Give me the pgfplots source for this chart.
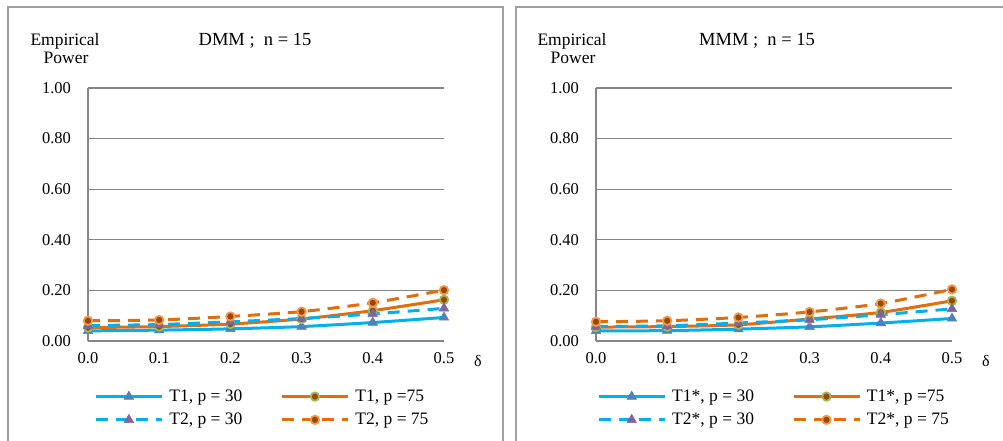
\documentclass[border=0pt]{standalone}
\usepackage{fontspec}
\setmainfont{Liberation Serif}
\usepackage{pgfplots}
\pgfplotsset{compat=1.18}

\definecolor{lblue}{HTML}{00B0F0}
\definecolor{dorange}{HTML}{E46C0A}
\definecolor{tri1}{HTML}{4F81BD}
\definecolor{tri2}{HTML}{8064A2}
\definecolor{cfill}{HTML}{984807}
\definecolor{cring1}{HTML}{9BBB59}
\definecolor{cring2}{HTML}{F79646}
\definecolor{axgray}{HTML}{868686}
\definecolor{framegray}{HTML}{A0A0A0}

\pgfplotstableread{
d     a      b      c      e
0.0   0.040  0.053  0.061  0.080
0.1   0.043  0.057  0.065  0.083
0.2   0.048  0.067  0.076  0.097
0.3   0.057  0.087  0.089  0.116
0.4   0.073  0.120  0.107  0.151
0.5   0.093  0.163  0.129  0.201
}\dmm

\pgfplotstableread{
d     a      b      c      e
0.0   0.040  0.055  0.057  0.076
0.1   0.041  0.057  0.060  0.080
0.2   0.047  0.064  0.071  0.093
0.3   0.056  0.087  0.084  0.115
0.4   0.071  0.113  0.104  0.148
0.5   0.089  0.159  0.127  0.204
}\mmm

\pgfplotsset{
  panel/.style={
    scale only axis, width=356bp, height=253bp,
    xmin=0, xmax=0.5, ymin=0, ymax=1,
    axis x line*=bottom, axis y line*=left,
    axis line style={-, draw=axgray, line width=1.3bp},
    every outer x axis line/.append style={-},
    every outer y axis line/.append style={-},
    xtick={0,0.1,0.2,0.3,0.4,0.5},
    ytick={0,0.2,0.4,0.6,0.8,1},
    ymajorgrids,
    major grid style={draw=axgray, line width=1.1bp},
    major tick length=0pt,
    /pgf/number format/assume math mode=true,
    yticklabel style={font=\fontsize{16.5bp}{18bp}\selectfont, xshift=-11bp,
      /pgf/number format/fixed, /pgf/number format/fixed zerofill, /pgf/number format/precision=2},
    xticklabel style={font=\fontsize{16.5bp}{18bp}\selectfont, yshift=-5bp,
      /pgf/number format/fixed, /pgf/number format/fixed zerofill, /pgf/number format/precision=1},
    clip=false,
    legend columns=2,
    legend cell align=left,
    legend style={draw=none, fill=none, anchor=north,
      font=\fontsize{17.5bp}{19bp}\selectfont,
      /tikz/every odd column/.append style={column sep=4bp},
      /tikz/every even column/.append style={column sep=36bp},
      row sep=5bp},
    legend image code/.code={\draw[mark repeat=2,mark phase=2,##1] plot coordinates {(0bp,0bp) (33bp,0bp) (66bp,0bp)};},
  },
  sA/.style={draw=lblue, line width=3bp, smooth, tension=0.4, mark=triangle*, mark size=5.5bp,
    mark options={solid, fill=tri1, draw=tri1, line width=0.5bp}},
  sB/.style={draw=dorange, line width=3bp, smooth, tension=0.4, mark=*, mark size=4.2bp,
    mark options={solid, fill=cfill, draw=cring1, line width=1.8bp}},
  sC/.style={draw=lblue, line width=3bp, dash pattern=on 12bp off 8bp, smooth, tension=0.4, mark=triangle*, mark size=5.5bp,
    mark options={solid, fill=tri2, draw=tri2, line width=0.5bp}},
  sD/.style={draw=dorange, line width=3bp, dash pattern=on 12bp off 8bp, smooth, tension=0.4, mark=*, mark size=4.2bp,
    mark options={solid, fill=cfill, draw=cring2, line width=1.8bp}},
}

\begin{document}
\fontsize{17.5bp}{20bp}\selectfont
\begin{tikzpicture}
\path[use as bounding box] (0bp,0bp) rectangle (1003bp,441bp);
% panel frames
\draw[framegray, line width=1.3bp] (8bp,-5bp) -- (8bp,434bp) -- (503bp,434bp) -- (503bp,-5bp);
\draw[framegray, line width=1.3bp] (516bp,-5bp) -- (516bp,434bp) -- (1010bp,434bp);

% left panel
\begin{axis}[panel, at={(88bp,100bp)}, anchor=south west, legend style={at={(0.49,-0.175)}}]
\addplot+[sA] table[x=d,y=a] {\dmm};
\addlegendentry{T1, p = 30}
\addplot+[sB] table[x=d,y=b] {\dmm};
\addlegendentry{T1, p =75}
\addplot+[sC] table[x=d,y=c] {\dmm};
\addlegendentry{T2, p = 30}
\addplot+[sD] table[x=d,y=e] {\dmm};
\addlegendentry{T2, p = 75}
\end{axis}
\node at (65bp,400bp) {Empirical};
\node at (66bp,383bp) {Power};
\node[font=\fontsize{18.5bp}{20bp}\selectfont] at (255bp,400bp) {DMM ;\ \ n = 15};
\node[font=\fontsize{16bp}{18bp}\selectfont] at (478bp,80bp) {δ};

% right panel
\begin{axis}[panel, at={(596bp,100bp)}, anchor=south west, legend style={at={(0.50,-0.175)}}]
\addplot+[sA] table[x=d,y=a] {\mmm};
\addlegendentry{T1*, p = 30}
\addplot+[sB] table[x=d,y=b] {\mmm};
\addlegendentry{T1*, p =75}
\addplot+[sC] table[x=d,y=c] {\mmm};
\addlegendentry{T2*, p = 30}
\addplot+[sD] table[x=d,y=e] {\mmm};
\addlegendentry{T2*, p = 75}
\end{axis}
\node at (572bp,400bp) {Empirical};
\node at (573bp,383bp) {Power};
\node[font=\fontsize{18.5bp}{20bp}\selectfont] at (757bp,400bp) {MMM ;\ \ n = 15};
\node[font=\fontsize{16bp}{18bp}\selectfont] at (986bp,80bp) {δ};
\end{tikzpicture}
\end{document}
